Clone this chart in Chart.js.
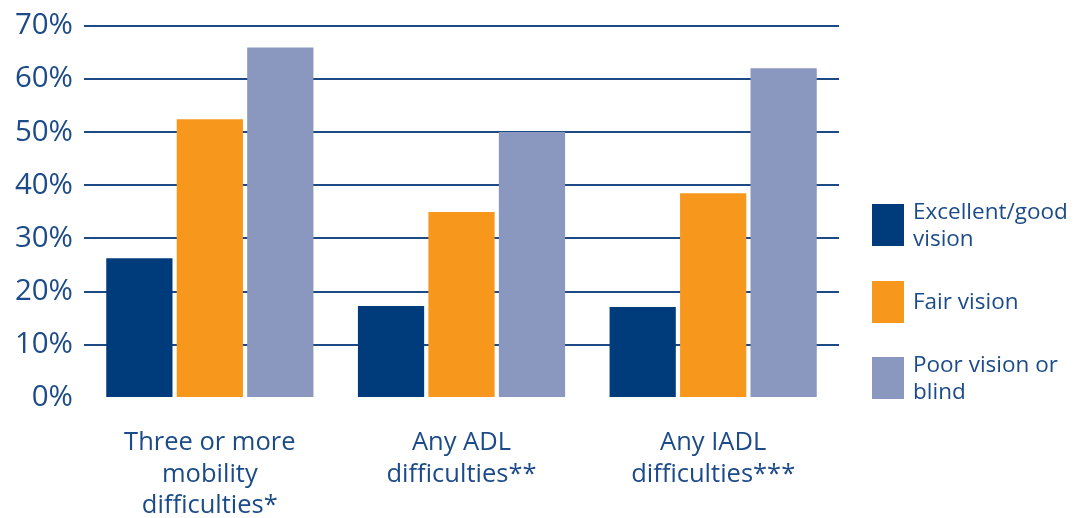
<!DOCTYPE html>
<html>
<head>
<meta charset="utf-8">
<script src="https://cdn.jsdelivr.net/npm/chart.js@4.4.1/dist/chart.umd.min.js"></script>
<style>
  html, body { margin: 0; padding: 0; background: #fff; }
  #wrap { width: 1085px; height: 518px; }
</style>
</head>
<body>
<div id="wrap"><canvas id="visionChart" width="1085" height="518"></canvas></div>
<script>
// Categories and values (percent)
const categories = [
    ['Three or more', 'mobility', 'difficulties*'],
    ['Any ADL', 'difficulties**'],
    ['Any IADL', 'difficulties***']
];
const seriesNames = ['Excellent/good vision', 'Fair vision', 'Poor vision or blind'];
const legendLines = [['Excellent/good', 'vision'], ['Fair vision'], ['Poor vision or', 'blind']];
const excellentGood = [26.3, 17.3, 17.1];
const fairVision = [52.4, 35.0, 38.5];
const poorVision = [65.9, 50.0, 62.0];
const yTicks = [0, 10, 20, 30, 40, 50, 60, 70];

const textColor = '#1c4b89';
const gridColor = '#1d4a84';
const fontFamily = '"Open Sans", "Noto Sans", sans-serif';

// legend drawn on the right, each entry may have two lines
const sideLegend = {
    id: 'sideLegend',
    afterDraw(chart) {
        const ctx = chart.ctx;
        const rowCenters = [225, 302, 378];
        ctx.save();
        ctx.font = '500 22.5px ' + fontFamily;
        ctx.textBaseline = 'middle';
        ctx.textAlign = 'left';
        chart.data.datasets.forEach((ds, i) => {
            const cy = rowCenters[i];
            ctx.fillStyle = ds.backgroundColor;
            ctx.fillRect(872, cy - 21, 32, 42);
            const lines = legendLines[i];
            const lh = 26.5;
            ctx.fillStyle = textColor;
            lines.forEach((txt, j) => {
                ctx.fillText(txt, 913, cy + 1 + (j - (lines.length - 1) / 2) * lh);
            });
        });
        ctx.restore();
    }
};

new Chart(document.getElementById('visionChart').getContext('2d'), {
    type: 'bar',
    data: {
        labels: categories,
        datasets: [
            { label: seriesNames[0], data: excellentGood, backgroundColor: '#003c7b' },
            { label: seriesNames[1], data: fairVision, backgroundColor: '#f7981d' },
            { label: seriesNames[2], data: poorVision, backgroundColor: '#8a97bf' }
        ]
    },
    options: {
        responsive: false,
        animation: false,
        layout: { padding: { top: 25, right: 246, left: 0, bottom: 0 } },
        datasets: {
            bar: { categoryPercentage: 0.84, barPercentage: 0.94 }
        },
        plugins: {
            legend: { display: false },
            tooltip: { enabled: false }
        },
        scales: {
            x: {
                grid: { display: false },
                border: { display: false },
                ticks: {
                    color: textColor,
                    font: { family: fontFamily, size: 25.5, weight: 500, lineHeight: 1.24 },
                    padding: 21,
                    maxRotation: 0
                },
                afterFit(scale) { scale.height = 120; }
            },
            y: {
                min: 0,
                max: 70,
                afterBuildTicks(scale) { scale.ticks = yTicks.map(v => ({ value: v })); },
                grid: {
                    color: ctx => ctx.tick && ctx.tick.value === 0 ? 'rgba(0,0,0,0)' : gridColor,
                    lineWidth: 2,
                    drawTicks: false
                },
                border: { display: false },
                ticks: {
                    color: textColor,
                    font: { family: fontFamily, size: 29.5, weight: 500, lineHeight: 1 },
                    padding: 11,
                    callback: v => v + '%'
                },
                afterFit(scale) { scale.width = 84; }
            }
        }
    },
    plugins: [sideLegend]
});
</script>
</body>
</html>
